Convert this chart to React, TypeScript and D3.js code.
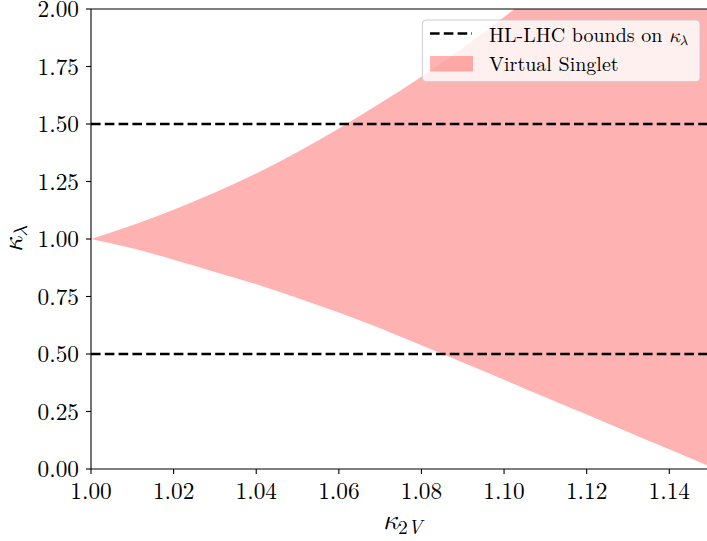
import React from "react";
import * as d3 from "d3";

const kappa2V = [1.0, 1.01, 1.02, 1.03, 1.04, 1.05, 1.06, 1.07, 1.08, 1.09, 1.1, 1.11, 1.12, 1.13, 1.14, 1.15];
const upperKl = [1.0, 1.06, 1.127, 1.202, 1.285, 1.378, 1.48, 1.59, 1.705, 1.83, 1.965, 2.11, 2.26, 2.42, 2.58, 2.75];
const lowerKl = [1.0, 0.96, 0.91, 0.857, 0.803, 0.743, 0.68, 0.612, 0.538, 0.463, 0.388, 0.312, 0.237, 0.161, 0.086, 0.01];
const hlLhcBounds = [0.5, 1.5];
const xTicks = [1.0, 1.02, 1.04, 1.06, 1.08, 1.1, 1.12, 1.14];
const yTicks = [0, 0.25, 0.5, 0.75, 1.0, 1.25, 1.5, 1.75, 2.0];

const W = 707;
const H = 541;
const FONT = `"Latin Modern Roman", "Liberation Serif", serif`;
const GREEK = `"Latin Modern Math", "STIX Two Math", "STIX Two Text", "Liberation Serif", serif`;

export default function App() {
  const x = d3.scaleLinear().domain([1.0, 1.15]).range([91, 710.6]);
  const y = d3.scaleLinear().domain([0, 2]).range([469, 9]);
  const data = kappa2V.map((k, i) => ({ k, lo: lowerKl[i], hi: upperKl[i] }));
  const area = d3
    .area<{ k: number; lo: number; hi: number }>()
    .x((d) => x(d.k))
    .y0((d) => y(d.lo))
    .y1((d) => y(d.hi))
    .curve(d3.curveMonotoneX);
  const [x0, x1] = x.range();
  const [yb, yt] = y.range();
  const tf = { fontFamily: FONT };
  const gk = { fontFamily: GREEK, fontStyle: "italic" as const };

  return (
    <svg width={W} height={H} style={{ position: "absolute", left: 0, top: 0, background: "#fff" }}>
      <defs>
        <clipPath id="plot">
          <rect x={x0} y={yt} width={x1 - x0} height={yb - yt} />
        </clipPath>
      </defs>
      <rect x={0} y={0} width={W} height={H} fill="#fff" />
      <g clipPath="url(#plot)">
        <path d={area(data) || ""} fill="red" fillOpacity={0.3} stroke="none" />
        {hlLhcBounds.map((b) => (
          <line
            key={b}
            x1={x0}
            x2={x1}
            y1={y(b)}
            y2={y(b)}
            stroke="#000"
            strokeWidth={2.6}
            strokeDasharray="9.6,4.2"
          />
        ))}
      </g>
      {/* spines */}
      <line x1={x0} x2={x0} y1={yt} y2={yb} stroke="#000" strokeWidth={1.1} />
      <line x1={x0} x2={x1} y1={yb} y2={yb} stroke="#000" strokeWidth={1.1} />
      <line x1={x0} x2={x1} y1={yt} y2={yt} stroke="#000" strokeWidth={1.1} />
      <line x1={x1} x2={x1} y1={yt} y2={yb} stroke="#000" strokeWidth={1.1} />
      {/* x ticks */}
      {xTicks.map((t) => (
        <g key={t}>
          <line x1={x(t)} x2={x(t)} y1={yb} y2={yb + 5} stroke="#000" strokeWidth={1.1} />
          <text style={tf} x={x(t)} y={yb + 30} textAnchor="middle" fontSize={23.3} fill="#000">
            {t.toFixed(2)}
          </text>
        </g>
      ))}
      {/* y ticks */}
      {yTicks.map((t) => (
        <g key={t}>
          <line x1={x0 - 5} x2={x0} y1={y(t)} y2={y(t)} stroke="#000" strokeWidth={1.1} />
          <text style={tf} x={x0 - 12} y={y(t) + 8} textAnchor="end" fontSize={23.3} fill="#000">
            {t.toFixed(2)}
          </text>
        </g>
      ))}
      {/* axis labels */}
      <text style={tf} x={(x0 + x1) / 2 + 2} y={529} textAnchor="middle" fontSize={28} fill="#000">
        <tspan style={gk}>κ</tspan>
        <tspan fontSize={19.5} dy={5}>2</tspan>
        <tspan fontSize={19.5} fontStyle="italic">V</tspan>
      </text>
      <g transform={`translate(22, ${(yt + yb) / 2}) rotate(-90)`}>
        <text style={tf} x={0} y={0} textAnchor="middle" fontSize={28} fill="#000">
          <tspan style={gk}>κ</tspan>
          <tspan style={gk} fontSize={19.5} dy={5}>λ</tspan>
        </text>
      </g>
      {/* legend */}
      <g>
        <rect
          x={422.3}
          y={20}
          width={277.7}
          height={61.7}
          rx={4}
          fill="#fff"
          fillOpacity={0.8}
          stroke="#ccc"
          strokeWidth={1}
        />
        <line x1={430} x2={472} y1={33.5} y2={33.5} stroke="#000" strokeWidth={2.6} strokeDasharray="9.6,4.2" />
        <text style={tf} x={489} y={41.5} fontSize={20} fill="#000">
          HL-LHC bounds on <tspan style={gk}>κ</tspan>
          <tspan style={gk} fontSize={14} dy={3.5}>λ</tspan>
        </text>
        <rect x={430} y={56} width={43} height={15.5} fill="red" fillOpacity={0.3} />
        <text style={tf} x={489} y={70.5} fontSize={20} fill="#000">
          Virtual Singlet
        </text>
      </g>
    </svg>
  );
}
